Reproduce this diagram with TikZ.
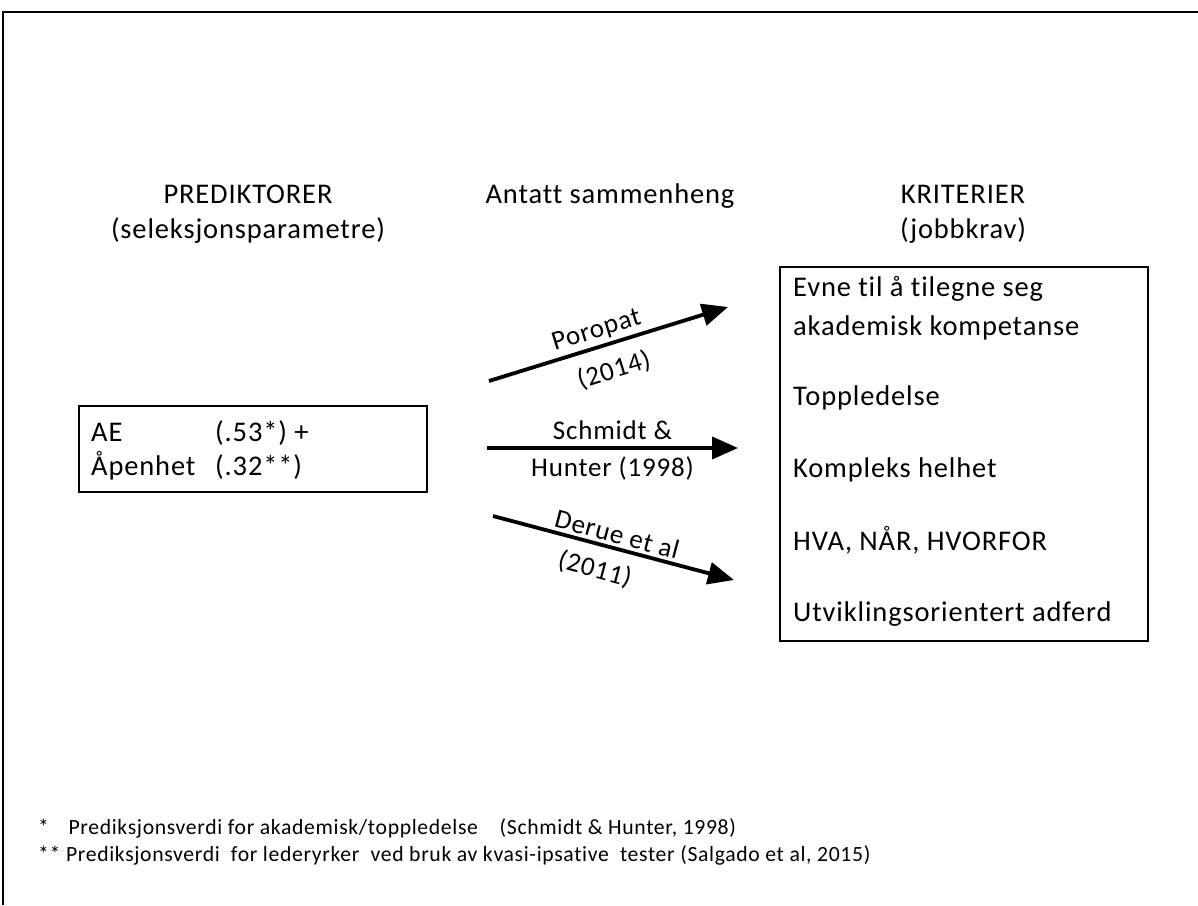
\documentclass[tikz,border=0pt]{standalone}
\usepackage{fontspec}
\setmainfont{Carlito}[LetterSpace=3,Ligatures=NoCommon]
\usetikzlibrary{arrows.meta}

\begin{document}
\begin{tikzpicture}[x=1pt,y=-1pt,font=\fontsize{28.5}{35}\selectfont,
  pil/.style={line width=3.8pt,-{Triangle[length=26pt,width=22pt]}},
  kilde/.style={font=\fontsize{27}{32}\selectfont},
  linje/.style={anchor=base west,inner sep=0pt},
  fotnote/.style={anchor=base west,inner sep=0pt,font=\fontsize{21.7}{26}\selectfont}]

\useasboundingbox (0,0) rectangle (1198,905);

%ramme
\coordinate (r1) at (3,905);
\coordinate (r2) at (3,12);
\coordinate (r3) at (1198,12);
\draw[line width=2pt] (r1) -- (r2) -- (r3);

%overskrifter
\node[align=center] (pred) at (248,214) {PREDIKTORER\\(seleksjonsparametre)};
\node (samm) at (610,196) {Antatt sammenheng};
\node[align=center] (krit) at (963,214) {KRITERIER\\(jobbkrav)};

%prediktorer
\node[draw,line width=1.5pt,minimum width=348,minimum height=86,inner sep=0pt] (aeboks) at (253,449) {};
\node[linje] (ae) at (91,441) {AE};
\node[linje] (ae2) at (215,441) {(.53*) +};
\node[linje] (ap) at (91,475) {Åpenhet};
\node[linje] (ap2) at (215,475) {(.32**)};

%kriterier
\node[draw,line width=1.5pt,minimum width=368,minimum height=374,inner sep=0pt] (kritboks) at (964,454) {};
\node[linje] (k1) at (793,296) {Evne til å tilegne seg};
\node[linje] (k2) at (793,335) {akademisk kompetanse};
\node[linje] (k3) at (793,405) {Toppledelse};
\node[linje] (k4) at (793,477) {Kompleks helhet};
\node[linje] (k5) at (793,550) {HVA, NÅR, HVORFOR};
\node[linje] (k6) at (793,621) {Utviklingsorientert adferd};

%piler
\coordinate (p1) at (489,381);
\coordinate (p2) at (728,307);
\coordinate (s1) at (487,448);
\coordinate (s2) at (738,448);
\coordinate (d1) at (493,516);
\coordinate (d2) at (734,580);

\draw[pil] (p1) -- node[kilde,sloped,above,pos=0.47,inner sep=3pt] (poro) {Poropat}
  node[kilde,sloped,below,pos=0.49,inner sep=13pt] (poroaar) {(2014)} (p2);
\draw[pil] (s1) -- node[kilde,above,inner sep=6pt] (schm) {Schmidt \&}
  node[kilde,below,inner sep=7pt] (schmaar) {Hunter (1998)} (s2);
\draw[pil] (d1) -- node[kilde,sloped,above,inner sep=3pt] (derue) {Derue et al}
  node[kilde,sloped,below,pos=0.45,inner sep=12pt] (derueaar) {(2011)} (d2);

%fotnoter
\node[fotnote] (f1) at (38,834) {*\hspace{0.9em}Prediksjonsverdi for akademisk/toppledelse\hspace{1em}(Schmidt \& Hunter, 1998)};
\node[fotnote] (f2) at (38,861) {** Prediksjonsverdi\ \ for lederyrker\ \ ved bruk av kvasi-ipsative\ \ tester (Salgado et al, 2015)};

\end{tikzpicture}
\end{document}
